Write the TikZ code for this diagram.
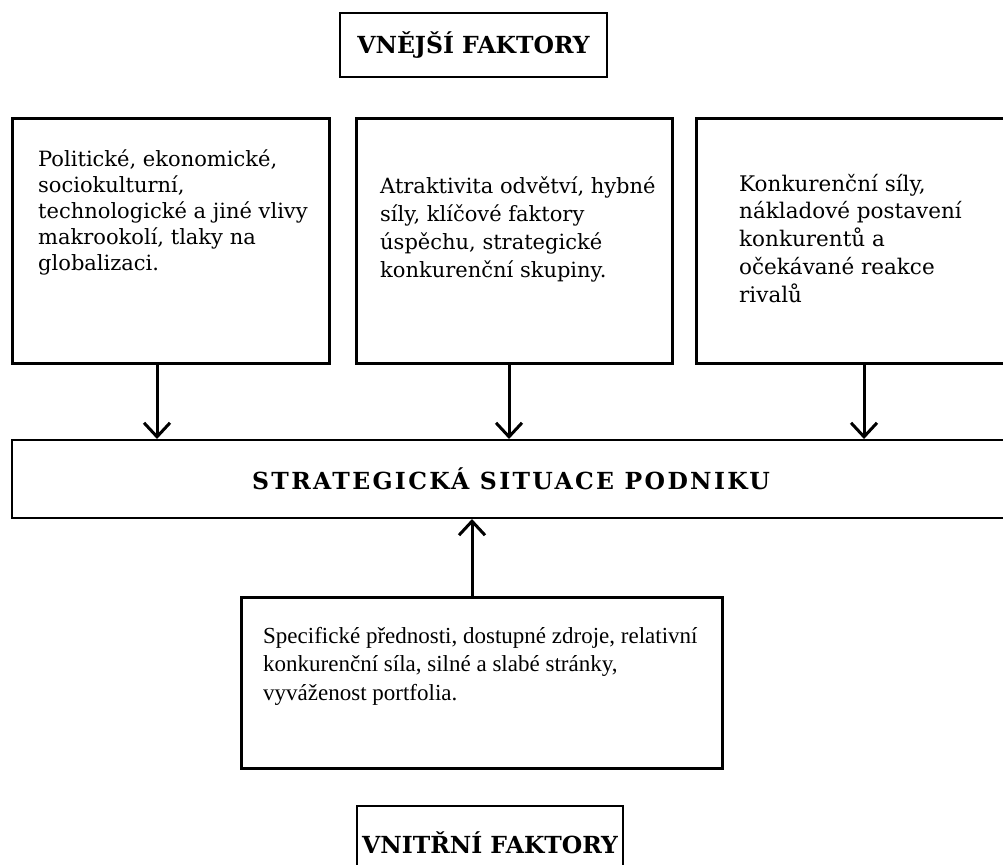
\documentclass[tikz,border=0pt]{standalone}
\usepackage{fontspec}
\setmainfont{DejaVu Serif}
\newfontfamily\camfont{Liberation Serif}
\newfontfamily\widefont[LetterSpace=10]{DejaVu Serif}
\usetikzlibrary{arrows.meta,positioning}

\begin{document}
\begin{tikzpicture}[x=1pt,y=-1pt,
box/.style={draw,line width=3pt,inner sep=0pt},
ttl/.style={draw,line width=2pt,inner sep=0pt,font=\bfseries\fontsize{23.5}{26}\selectfont},
txt/.style={anchor=base west,align=left,inner sep=0pt,font=\fontsize{21}{26}\selectfont},
arr/.style={-{Straight Barb[length=14pt,width=26pt]},line width=3pt}
]
\useasboundingbox (0,0) rectangle (1003,864);
\clip (0,0) rectangle (1003,864);

\node (vnej) [ttl,minimum width=267pt,minimum height=64pt] at (473.5,45) {VNĚJŠÍ FAKTORY};

% vnejsi faktory
\node (pol) [box,minimum width=317pt,minimum height=244pt] at (170.5,241) {};
\node (atr) [box,minimum width=316pt,minimum height=244pt] at (514,241) {};
\node (kon) [box,minimum width=314pt,minimum height=244pt] at (853,241) {};
\node (poltxt) [txt] at (38,270) {Politické, ekonomické,\\sociokulturní,\\technologické a jiné vlivy\\makrookolí, tlaky na\\globalizaci.};
\node (atrtxt) [txt,font=\fontsize{21}{27.7}\selectfont] at (380,277) {Atraktivita odvětví, hybné\\síly, klíčové faktory\\úspěchu, strategické\\konkurenční skupiny.};
\node (kontxt) [txt,font=\fontsize{21.5}{27.7}\selectfont] at (739,302) {Konkurenční síly,\\nákladové postavení\\konkurentů a\\očekávané reakce\\rivalů};

\node (sit) [ttl,minimum width=998pt,minimum height=78pt,font=\widefont\bfseries\fontsize{23.5}{26}\selectfont] at (511,479) {STRATEGICKÁ SITUACE PODNIKU};

% vnitrni faktory
\node (spec) [box,minimum width=481pt,minimum height=171pt] at (481.5,682.5) {};
\node (spectxt) [txt,font=\camfont\fontsize{23}{28.5}\selectfont] at (263,700) {Specifické přednosti, dostupné zdroje, relativní\\konkurenční síla, silné a slabé stránky,\\vyváženost portfolia.};
\node (vnitr) [ttl,minimum width=266pt,minimum height=74pt] at (490,843) {VNITŘNÍ FAKTORY};

\draw[arr] ([xshift=-13.5pt]pol.south) -- ([xshift=-13.5pt]pol.south |- sit.north);
\draw[arr] ([xshift=-5pt]atr.south) -- ([xshift=-5pt]atr.south |- sit.north);
\draw[arr] ([xshift=11pt]kon.south) -- ([xshift=11pt]kon.south |- sit.north);
\draw[arr] ([xshift=-9.5pt]spec.north) -- ([xshift=-9.5pt]spec.north |- sit.south);
\end{tikzpicture}
\end{document}
